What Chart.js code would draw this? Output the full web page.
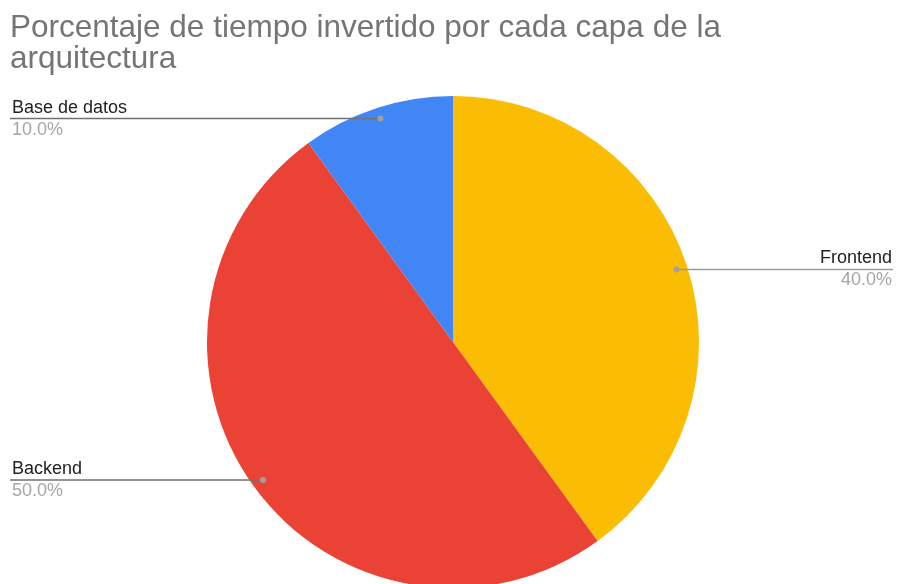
<!DOCTYPE html>
<html>
<head>
<meta charset="utf-8">
<script src="https://cdn.jsdelivr.net/npm/chart.js@4"></script>
<style>
  html, body { margin: 0; padding: 0; background: #fff; overflow: hidden; }
  #wrap { width: 898px; height: 600px; position: relative; }
</style>
</head>
<body>
<div id="wrap"><canvas id="myChart"></canvas></div>
<script>
const titleLines = ['Porcentaje de tiempo invertido por cada capa de la', 'arquitectura'];
const capas = ['Frontend', 'Backend', 'Base de datos'];
const porcentajes = [40, 50, 10];
const colores = ['#FBBC04', '#EA4335', '#4285F4'];

// which side each leader label sits on
const lados = ['right', 'left', 'left'];

const FONT = '"Liberation Sans", Arial, sans-serif';

const etiquetas = {
  id: 'etiquetas',
  afterDraw(chart) {
    const ctx = chart.ctx;
    const meta = chart.getDatasetMeta(0);
    const total = porcentajes.reduce((a, b) => a + b, 0);

    // title
    ctx.save();
    ctx.fillStyle = '#757575';
    ctx.font = '31.5px ' + FONT;
    ctx.textBaseline = 'alphabetic';
    ctx.textAlign = 'left';
    ctx.fillText(titleLines[0], 10, 37);
    ctx.fillText(titleLines[1], 10, 68);
    ctx.restore();

    meta.data.forEach((arc, i) => {
      const p = arc.getProps(['x', 'y', 'startAngle', 'endAngle', 'outerRadius'], true);
      const mid = (p.startAngle + p.endAngle) / 2;
      const r = p.outerRadius * 0.955;
      const dx = p.x + Math.cos(mid) * r;
      const dy = p.y + Math.sin(mid) * r;
      const right = lados[i] === 'right';
      const edge = right ? chart.width - 5 : 10;

      ctx.save();
      ctx.strokeStyle = right ? '#9a9a9a' : '#707070';
      ctx.lineWidth = 1.5;
      ctx.beginPath();
      ctx.moveTo(edge, dy);
      ctx.lineTo(dx, dy);
      ctx.stroke();

      ctx.fillStyle = '#a0a0a0';
      ctx.beginPath();
      ctx.arc(dx, dy, 3, 0, Math.PI * 2);
      ctx.fill();

      ctx.textAlign = right ? 'right' : 'left';
      const tx = right ? edge - 1 : edge + 2;
      ctx.font = '18px ' + FONT;
      ctx.fillStyle = '#222';
      ctx.fillText(capas[i], tx, dy - 6);
      ctx.fillStyle = '#a6a6a6';
      ctx.fillText((porcentajes[i] / total * 100).toFixed(1) + '%', tx, dy + 16);
      ctx.restore();
    });
  }
};

new Chart(document.getElementById('myChart'), {
  type: 'pie',
  data: {
    labels: capas,
    datasets: [{
      data: porcentajes,
      backgroundColor: colores,
      borderWidth: 0
    }]
  },
  options: {
    responsive: true,
    maintainAspectRatio: false,
    animation: false,
    layout: { padding: { top: 96, bottom: 12, left: 207, right: 199 } },
    plugins: {
      legend: { display: false },
      tooltip: { enabled: false }
    }
  },
  plugins: [etiquetas]
});
</script>
</body>
</html>
